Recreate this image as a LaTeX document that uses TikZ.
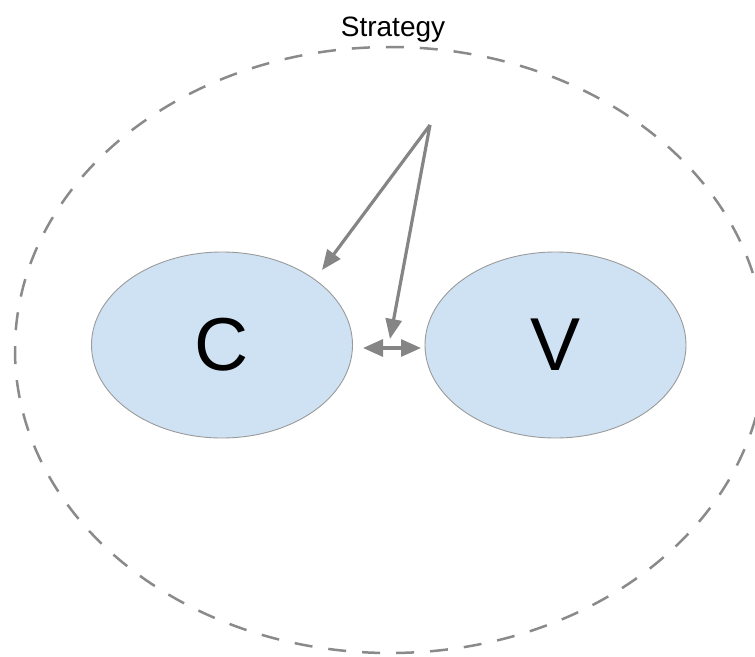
\documentclass[tikz,border=0pt]{standalone}
\usepackage{fontspec}
\setmainfont{Liberation Sans}
\usetikzlibrary{shapes.geometric,arrows.meta}
\definecolor{fillblue}{HTML}{CFE2F3}
\definecolor{edgegray}{HTML}{9A9A9A}
\definecolor{arrgray}{HTML}{858585}
\definecolor{dashgray}{HTML}{8A8A8A}
\tikzset{
  blob/.style={ellipse, draw=edgegray, line width=0.9pt, fill=fillblue,
    minimum width=261pt, minimum height=186pt, inner sep=0pt,
    font=\fontsize{75}{80}\selectfont},
  connector/.style={draw=arrgray, line width=3.2pt,
    -{Triangle[length=20pt,width=16pt]}},
  dblconnector/.style={draw=arrgray, line width=3.2pt,
    {Triangle[length=20pt,width=17pt]}-{Triangle[length=20pt,width=17pt]}},
  boundary/.style={draw=dashgray, line width=2.5pt, dash pattern=on 18pt off 16pt}
}
\begin{document}
\begin{tikzpicture}[x=1pt,y=-1pt]
\useasboundingbox (0,0) rectangle (755,656);
\draw[boundary] (390,350) ellipse [x radius=375, y radius=303];
\node[font=\fontsize{28}{32}\selectfont, anchor=base] (strategy) at (393,36) {Strategy};
\node[blob] (C) at (222,345) {C};
\node[blob] (V) at (555.5,345) {V};
\coordinate (src) at (430,125);
\coordinate (tipC) at (322,270);
\coordinate (tipM) at (390,339);
\coordinate (dl) at (363,348);
\coordinate (dr) at (421,348);
\draw[connector] (src) -- (tipC);
\draw[connector] (src) -- (tipM);
\draw[dblconnector] (dl) -- (dr);
\end{tikzpicture}
\end{document}
